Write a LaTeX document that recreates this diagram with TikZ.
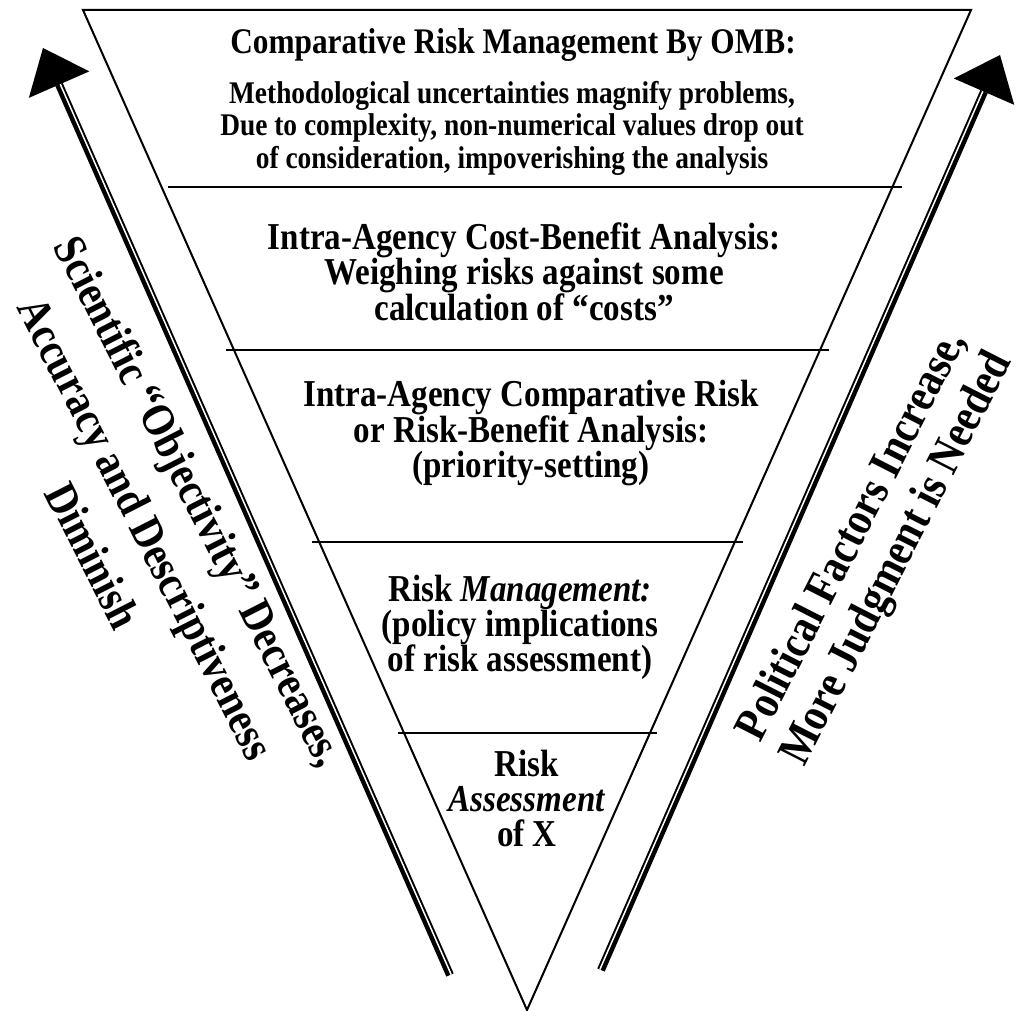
\documentclass[tikz,border=0pt]{standalone}
\usepackage{fontspec}
\setmainfont{Liberation Serif}[FakeStretch=0.87]
\usetikzlibrary{calc}
\begin{document}
\begin{tikzpicture}[x=1pt, y=-1pt,
  funnel/.style={line width=2pt, line join=miter},
  divider/.style={line width=1.7pt},
  title/.style={font=\bfseries\fontsize{36}{38}\selectfont, inner sep=0pt},
  note/.style={align=center, font=\bfseries\fontsize{31.5}{32.5}\selectfont, inner sep=0pt},
  tier/.style={align=center, font=\bfseries\fontsize{38}{35}\selectfont, inner sep=0pt},
  leftside/.style={align=center, font=\bfseries\fontsize{46}{60}\selectfont, inner sep=0pt},
  rightside/.style={align=center, font=\bfseries\fontsize{47}{50}\selectfont, inner sep=0pt},
  shaft/.style={line width=8pt},
  gap/.style={white, line width=1.5pt}]
\useasboundingbox (0,0) rectangle (1026,1011);

% inverted triangle
\coordinate (tl) at (83,10);
\coordinate (tr) at (971,10);
\coordinate (bt) at (527,1010);
\draw[funnel] (tl) -- (tr) -- (bt) -- cycle;

% tier dividers
\coordinate (d1a) at (168,187); \coordinate (d1b) at (902,187);
\coordinate (d2a) at (226,350); \coordinate (d2b) at (829,350);
\coordinate (d3a) at (312,542); \coordinate (d3b) at (743,542);
\coordinate (d4a) at (398,733); \coordinate (d4b) at (657,733);
\draw[divider] (d1a) -- (d1b);
\draw[divider] (d2a) -- (d2b);
\draw[divider] (d3a) -- (d3b);
\draw[divider] (d4a) -- (d4b);

% tier texts
\node[title] (ttl) at (513,45) {Comparative Risk Management By OMB:};
\node[note] (omb) at (512,128) {Methodological uncertainties magnify problems,\\Due to complexity, non-numerical values drop out\\of consideration, impoverishing the analysis};
\node[tier] (cba) at (524,272) {Intra-Agency Cost-Benefit Analysis:\\Weighing risks against some\\calculation of “costs”};
\node[tier] (cra) at (531,433) {Intra-Agency Comparative Risk\\or Risk-Benefit Analysis:\\(priority-setting)};
\node[tier] (mgmt) at (520,627) {Risk \textit{Management:}\\(policy implications\\of risk assessment)};
\node[tier] (assess) at (527,798) {Risk\\\textit{Assessment}\\of X};

% left arrow: objectivity
\coordinate (lb) at (450,975);
\coordinate (lt) at (43,48);
\coordinate (lh) at ($(lt)!40pt!(lb)$);
\draw[shaft] (lb) -- (lh);
\draw[gap] ($(lb)!1.25pt!-90:(lt)$) -- ($(lh)!1.25pt!-90:(lt)$);
\fill (lt) -- ($(lh)!33pt!90:(lt)$) -- ($(lh)!33pt!-90:(lt)$) -- cycle;

% right arrow: political factors
\coordinate (rb) at (601,970);
\coordinate (rt) at (1000,55);
\coordinate (rh) at ($(rt)!40pt!(rb)$);
\draw[shaft] (rb) -- (rh);
\draw[gap] ($(rb)!1.25pt!90:(rt)$) -- ($(rh)!1.25pt!90:(rt)$);
\fill (rt) -- ($(rh)!33pt!90:(rt)$) -- ($(rh)!33pt!-90:(rt)$) -- cycle;

% side captions
\node[leftside, rotate=-63] (ltxt) at (147,528) {Scientific “Objectivity” Decreases,\\Accuracy and Descriptiveness\\Diminish};
\node[rightside, rotate=63] (rtxt) at (876,548) {Political Factors Increase,\\More Judgment is Needed};
\end{tikzpicture}
\end{document}
